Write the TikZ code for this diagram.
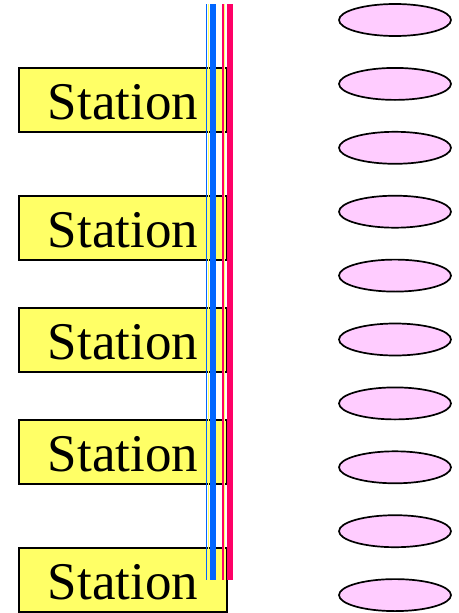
\documentclass[tikz,border=0pt]{standalone}
\usepackage{fontspec}
\setmainfont{Liberation Serif}
\usetikzlibrary{shapes.geometric}

\definecolor{stationyellow}{HTML}{FFFF66}
\definecolor{stoppink}{HTML}{FFCCFF}
\definecolor{busblue}{HTML}{0066FF}
\definecolor{buspink}{HTML}{FF0066}

\tikzset{
  station/.style={draw=black,fill=stationyellow,line width=1.1pt,
    minimum width=208pt,minimum height=64pt,inner sep=0pt,
    text height=39pt,text depth=0pt,
    font=\fontsize{53}{53}\selectfont},
  stop/.style={ellipse,draw=black,fill=stoppink,line width=1.7pt,
    minimum width=112pt,minimum height=32pt,inner sep=0pt},
}

\begin{document}
\begin{tikzpicture}[x=1pt,y=-1pt]
        \useasboundingbox (0,0) rectangle (458,613);
        % stations on the left
        \node[station] (st1) at (123,100) {Station};
        \node[station] (st2) at (123,228) {Station};
        \node[station] (st3) at (123,340) {Station};
        \node[station] (st4) at (123,452) {Station};
        \node[station] (st5) at (123,580) {Station};
        % stops on the right
        \foreach \i in {0,...,9}
          \node[stop] (stop\i) at (395,20+63.9*\i) {};
        % the bus lines
        \draw[line width=1.4pt,color=busblue] (206.6,4) -- (206.6,580);
        \draw[line width=0.7pt,color=stationyellow] (208.4,4) -- (208.4,580);
        \draw[line width=6pt,color=busblue] (213.4,4) -- (213.4,580);
        \draw[line width=1.4pt,color=buspink] (222.8,4) -- (222.8,580);
        \draw[line width=0.7pt,color=stationyellow] (224.5,4) -- (224.5,580);
        \draw[line width=6.6pt,color=buspink] (230,4) -- (230,580);
      \end{tikzpicture}
\end{document}
